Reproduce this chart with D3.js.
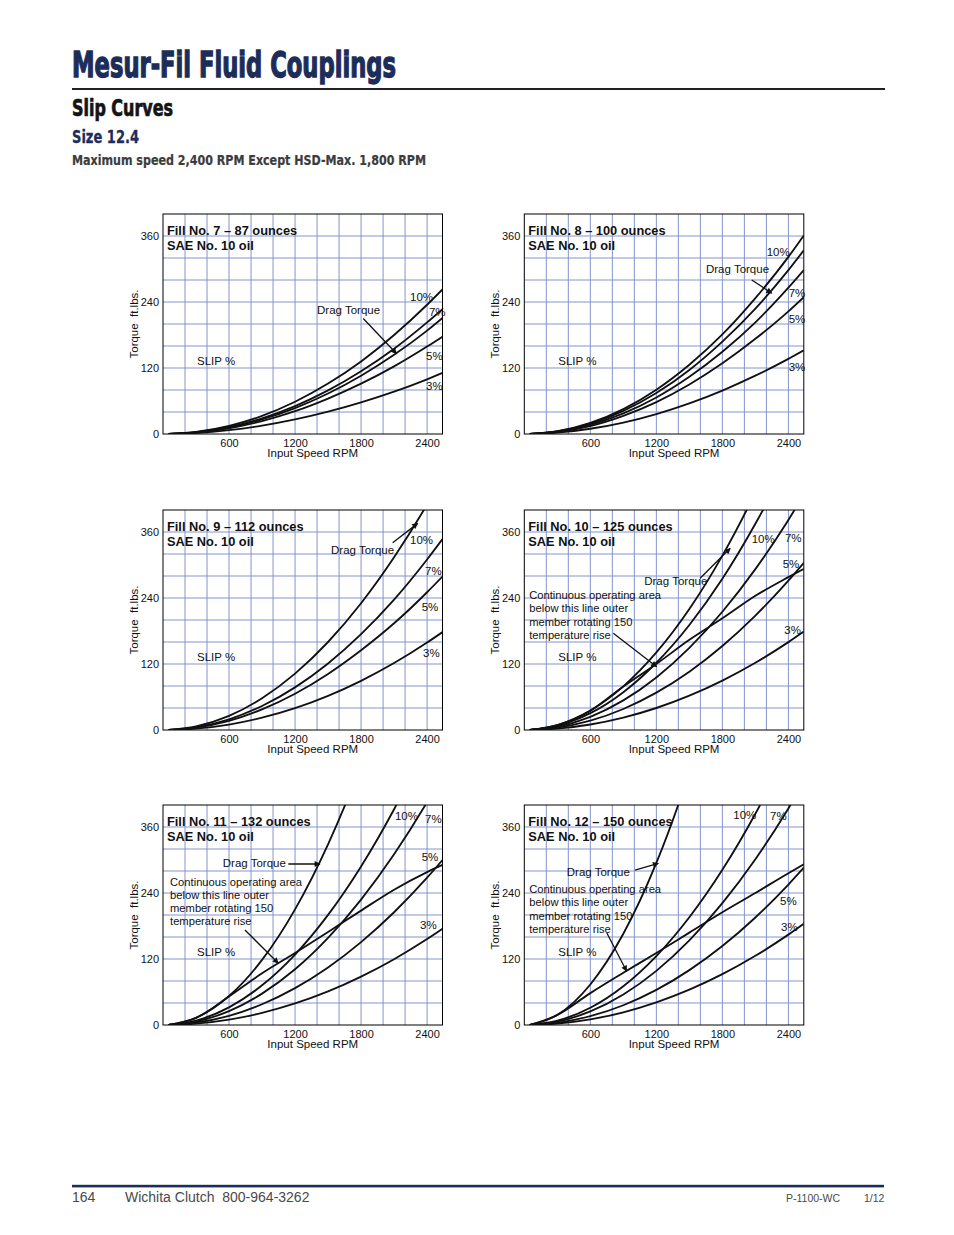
<!DOCTYPE html>
<html><head><meta charset="utf-8">
<script src="https://cdn.jsdelivr.net/npm/d3@7"></script>
<style>
html,body{margin:0;padding:0;background:#fff;}
svg{display:block;}
text{font-family:"Liberation Sans",Arial,Helvetica,sans-serif;}
</style></head><body>
<svg id="page" width="954" height="1235"></svg>
<script>
// ---------- DATA ----------
const rpm = [50, 300, 600, 900, 1200, 1500, 1800, 2100, 2400, 2540];
const rpmTicks = [600, 1200, 1800, 2400];
const torqueTicks = [0, 120, 240, 360];
const rpmGrid = [200, 400, 600, 800, 1000, 1200, 1400, 1600, 1800, 2000, 2200, 2400];
const torqueGrid = [40, 80, 120, 160, 200, 240, 280, 320, 360];
const rpmMax = 2540;
const torqueMax = 400;

// Fill No. 7
const fill7Slip10 = [0, 3.7, 14.7, 33, 58.7, 91.7, 132, 180, 235, 263];
const fill7Drag   = [0, 3.2, 12.7, 28.5, 50.7, 79.2, 114, 155, 203, 227];
const fill7Slip7  = [0, 2.9, 11.8, 26.5, 47.1, 73.6, 106, 144, 188, 211];
const fill7Slip5  = [0, 2.6, 10.4, 23.5, 41.5, 64.5, 91.5, 123, 159, 177];
const fill7Slip3  = [0, 1.8, 7.0, 15.2, 26.5, 40.6, 57.5, 77, 99.5, 111];
// Fill No. 8
const fill8Slip10 = [0, 5, 20.1, 45.3, 80.6, 126, 181, 247, 322, 361];
const fill8Drag   = [0, 4.6, 18.6, 42, 74.5, 116.5, 168, 228, 298, 334];
const fill8Slip7  = [0, 4.1, 16.6, 37.4, 66.4, 104, 149.5, 203, 266, 298];
const fill8Slip5  = [0, 3.6, 14.5, 33, 58, 90, 128.5, 173, 223, 249];
const fill8Slip3  = [0, 2.4, 9.5, 20.8, 36.3, 55.7, 79, 106, 136.5, 152];
// Fill No. 9
const fill9Slip10 = [0, 6.4, 25.6, 57.7, 102.5, 160, 230.5, 314, 410, 459];
const fill9Slip7  = [0, 4.8, 19.4, 43.6, 77.5, 121, 174.3, 237, 310, 347];
const fill9Slip5  = [0, 4.2, 16.5, 37.5, 66, 102, 145, 194, 250.5, 279];
const fill9Slip3  = [0, 2.5, 9.9, 22.4, 39.7, 62.1, 89.4, 121.7, 159, 178];
// Fill No. 10
const fill10Drag   = [0, 8.8, 35.3, 79.4, 141, 220, 317, 432, 564, 632];
const fill10Slip10 = [0, 7.6, 30.6, 68.8, 122.3, 191, 275, 375, 489, 548];
const fill10Slip7  = [0, 5.9, 23.9, 53.8, 95.5, 149.3, 215, 292.5, 382, 428];
const fill10Slip5  = [0, 4.2, 17, 38.2, 67.9, 106, 152.7, 208, 271.4, 304];
const fill10Limit  = [0, 8.8, 35, 79, 120, 164, 203, 244, 278, 293];
const fill10Slip3  = [0, 2.5, 10, 22.5, 40, 62.4, 89.9, 122.3, 159.8, 179];
// Fill No. 11
const fill11Drag   = [0, 13.1, 52.6, 118.3, 210.3, 328.6, 473, 644, 841, 942];
const fill11Slip10 = [0, 8, 32, 72.1, 128.1, 200.2, 288.3, 392.3, 512.5, 574];
const fill11Slip7  = [0, 6.3, 25.3, 57, 101.3, 158.4, 228, 310.3, 405.3, 454];
const fill11Slip5  = [0, 4.2, 16.7, 37.7, 67, 104.6, 150.7, 205, 267.8, 300];
const fill11Limit  = [0, 13, 52, 94, 131, 169, 208, 246, 278, 291];
const fill11Slip3  = [0, 2.4, 9.8, 22, 39.1, 61, 87.9, 119.6, 156.2, 175];
// Fill No. 12
const fill12Drag   = [0, 18.3, 73.7, 165.8, 294.6, 460, 663, 902, 1178, 1320];
const fill12Slip10 = [0, 7.8, 31.4, 70.6, 125.4, 196, 282.2, 384.1, 501.8, 562];
const fill12Slip7  = [0, 6.1, 24.6, 55.4, 98.4, 153.8, 221.5, 301.4, 393.7, 441];
const fill12Slip5  = [0, 4, 16, 35.9, 63.8, 99.8, 143.6, 195.5, 255.3, 286];
const fill12Limit  = [0, 18.3, 58, 95, 131, 168, 205, 240, 276, 292];
const fill12Slip3  = [0, 2.6, 10.3, 23.1, 41.1, 64.2, 92.4, 125.8, 164.3, 184];

const fillTitles = ["Fill No. 7 \u2013 87 ounces", "Fill No. 8 \u2013 100 ounces", "Fill No. 9 \u2013 112 ounces",
                    "Fill No. 10 \u2013 125 ounces", "Fill No. 11 \u2013 132 ounces", "Fill No. 12 \u2013 150 ounces"];
const oilLabel = "SAE No. 10 oil";
const noteLines = ["Continuous operating area", "below this line outer", "member rotating 150", "temperature rise"];

// ---------- ANNOTATIONS (data coordinates: rpm, torque) ----------
const panels = [
  { title: fillTitles[0], col: 0, row: 0,
    curves: [fill7Slip10, fill7Drag, fill7Slip7, fill7Slip5, fill7Slip3],
    labels: [["Drag Torque", 1400, 218], ["10%", 2245, 242], ["7%", 2417, 214], ["5%", 2390, 134], ["3%", 2390, 80]],
    arrows: [[1820, 210, 2123, 146]], note: null },
  { title: fillTitles[1], col: 1, row: 0,
    curves: [fill8Slip10, fill8Drag, fill8Slip7, fill8Slip5, fill8Slip3],
    labels: [["Drag Torque", 1651, 293], ["10%", 2203, 324], ["7%", 2403, 249], ["5%", 2403, 202], ["3%", 2403, 115]],
    arrows: [[2067, 280, 2249, 256]], note: null },
  { title: fillTitles[2], col: 0, row: 1,
    curves: [fill9Slip10, fill9Slip7, fill9Slip5, fill9Slip3],
    labels: [["Drag Torque", 1527, 320], ["10%", 2245, 338], ["7%", 2381, 282], ["5%", 2351, 217], ["3%", 2363, 133]],
    arrows: [[2087, 340.5, 2315, 375.7]], note: null },
  { title: fillTitles[3], col: 1, row: 1,
    curves: [fill10Drag, fill10Slip10, fill10Slip7, fill10Slip5, fill10Limit, fill10Slip3],
    labels: [["Drag Torque", 1090, 263], ["10%", 2066, 340], ["7%", 2369, 342], ["5%", 2348, 294.5], ["3%", 2363, 174]],
    arrows: [[1598, 275.8, 1871, 330.3], [809, 175.8, 1203, 115]], note: [45, 238] },
  { title: fillTitles[4], col: 0, row: 2,
    curves: [fill11Drag, fill11Slip10, fill11Slip7, fill11Slip5, fill11Limit, fill11Slip3],
    labels: [["Drag Torque", 543, 287.6], ["10%", 2108, 372], ["7%", 2381, 367], ["5%", 2351, 299], ["3%", 2336, 174.5]],
    arrows: [[1139, 292.7, 1427, 292.7], [745, 172.7, 1048, 112.2]], note: [64, 253.6] },
  { title: fillTitles[5], col: 1, row: 2,
    curves: [fill12Drag, fill12Slip10, fill12Slip7, fill12Slip5, fill12Limit, fill12Slip3],
    labels: [["Drag Torque", 386, 271], ["10%", 1899, 374.5], ["7%", 2233, 373.6], ["5%", 2324, 218], ["3%", 2333, 171]],
    arrows: [[1006, 281.8, 1218, 294], [749, 167.6, 930, 97.8]], note: [45, 240] }
];
const slipLabel = ["SLIP %", 309, 125];

// ---------- LAYOUT ----------
const colX = [163, 524.3];
const rowBottom = [434, 730, 1025];
const plotW = 279.5, plotH = 220;
const navy = "#1c2d5a";
const gridColor = "#8494cf";
const ink = "#111";

const svg = d3.select("#page");

// arrow marker
const defs = svg.append("defs");
defs.append("marker").attr("id", "ah")
  .attr("viewBox", "0 0 10 10").attr("refX", 9).attr("refY", 5)
  .attr("markerWidth", 7).attr("markerHeight", 6).attr("markerUnits", "userSpaceOnUse")
  .attr("orient", "auto")
  .append("path").attr("d", "M0,0 L10,5 L0,10 z").attr("fill", ink);

// ---------- HEADER ----------
const condensed = "'Liberation Sans Narrow','Arial Narrow','DejaVu Sans Condensed','Roboto Condensed',sans-serif";
svg.append("text").attr("x", 72).attr("y", 77)
  .style("font-family", condensed).style("font-weight", "bold").style("font-size", "35px")
  .attr("fill", navy).attr("stroke", navy).attr("stroke-width", 1.3)
  .attr("textLength", 324).attr("lengthAdjust", "spacingAndGlyphs")
  .text("Mesur-Fil Fluid Couplings");
svg.append("line").attr("x1", 72).attr("x2", 885).attr("y1", 89).attr("y2", 89)
  .attr("stroke", "#222").attr("stroke-width", 1.8);
svg.append("text").attr("x", 72).attr("y", 116)
  .style("font-family", condensed).style("font-weight", "bold").style("font-size", "22.5px")
  .attr("fill", "#141414").attr("stroke", "#141414").attr("stroke-width", 0.7)
  .attr("textLength", 101).attr("lengthAdjust", "spacingAndGlyphs")
  .text("Slip Curves");
svg.append("text").attr("x", 72).attr("y", 143.3)
  .style("font-family", condensed).style("font-weight", "bold").style("font-size", "18.5px")
  .attr("fill", navy).attr("stroke", navy).attr("stroke-width", 0.3)
  .attr("textLength", 67).attr("lengthAdjust", "spacingAndGlyphs")
  .text("Size 12.4");
svg.append("text").attr("x", 72).attr("y", 165)
  .style("font-family", condensed).style("font-weight", "bold").style("font-size", "14px")
  .attr("fill", "#3c3c3c").attr("stroke", "#3c3c3c").attr("stroke-width", 0.2)
  .attr("textLength", 354).attr("lengthAdjust", "spacingAndGlyphs")
  .text("Maximum speed 2,400 RPM Except HSD-Max. 1,800 RPM");

// ---------- PANELS ----------
panels.forEach((p, i) => {
  const x = d3.scaleLinear().domain([0, rpmMax]).range([0, plotW]);
  const y = d3.scaleLinear().domain([0, torqueMax]).range([plotH, 0]);
  const g = svg.append("g").attr("transform", `translate(${colX[p.col]},${rowBottom[p.row] - plotH})`);

  g.append("clipPath").attr("id", "clip" + i).append("rect")
    .attr("x", 0).attr("y", 0).attr("width", plotW).attr("height", plotH);

  // grid
  g.append("g").selectAll("line").data(rpmGrid).join("line")
    .attr("x1", d => x(d)).attr("x2", d => x(d)).attr("y1", 0).attr("y2", plotH)
    .attr("stroke", gridColor).attr("stroke-width", 1);
  g.append("g").selectAll("line").data(torqueGrid).join("line")
    .attr("y1", d => y(d)).attr("y2", d => y(d)).attr("x1", 0).attr("x2", plotW)
    .attr("stroke", gridColor).attr("stroke-width", 1);

  // axes
  const ax = g.append("g").attr("transform", `translate(0,${plotH})`)
    .call(d3.axisBottom(x).tickValues(rpmTicks).tickSize(0).tickPadding(5).tickFormat(d3.format("d")));
  const ay = g.append("g")
    .call(d3.axisLeft(y).tickValues(torqueTicks).tickSize(0).tickPadding(4).tickFormat(d3.format("d")));
  [ax, ay].forEach(a => {
    a.select(".domain").remove();
    a.selectAll("text").style("font-family", "'Liberation Sans',Arial,sans-serif")
      .style("font-size", "11px").attr("fill", ink);
  });

  // frame
  g.append("rect").attr("x", 0).attr("y", 0).attr("width", plotW).attr("height", plotH)
    .attr("fill", "none").attr("stroke", "#000").attr("stroke-width", 1);

  // axis titles
  g.append("text").attr("x", plotW / 2 + 10).attr("y", plotH + 23).attr("text-anchor", "middle")
    .style("font-size", "11.5px").attr("fill", ink).text("Input Speed RPM");
  g.append("text").attr("transform", `translate(-25,${plotH / 2}) rotate(-90)`).attr("text-anchor", "middle")
    .style("font-size", "11.5px").attr("fill", ink).style("white-space", "pre")
    .text("Torque  ft.lbs.");

  // curves
  const line = d3.line().x((d, k) => x(rpm[k])).y(d => y(d)).curve(d3.curveMonotoneX);
  g.append("g").attr("clip-path", `url(#clip${i})`).selectAll("path").data(p.curves).join("path")
    .attr("d", d => line(d)).attr("fill", "none").attr("stroke", ink).attr("stroke-width", 1.85);

  // titles
  g.append("text").attr("x", 4).attr("y", 21).style("font-weight", "bold").style("font-size", "12.8px")
    .attr("fill", ink).text(p.title);
  g.append("text").attr("x", 4).attr("y", 36).style("font-weight", "bold").style("font-size", "12.8px")
    .attr("fill", ink).text(oilLabel);

  // labels
  g.append("text").attr("x", x(slipLabel[1])).attr("y", y(slipLabel[2]))
    .style("font-size", "11.5px").attr("fill", ink).text(slipLabel[0]);
  g.append("g").selectAll("text").data(p.labels).join("text")
    .attr("x", d => x(d[1])).attr("y", d => y(d[2]))
    .style("font-size", "11.5px").attr("fill", ink).text(d => d[0]);

  // note
  if (p.note) {
    g.append("g").selectAll("text").data(noteLines).join("text")
      .attr("x", x(p.note[0])).attr("y", (d, k) => y(p.note[1]) + k * 13.3)
      .style("font-size", "11.2px").attr("fill", ink).text(d => d);
  }

  // arrows
  g.append("g").selectAll("line").data(p.arrows).join("line")
    .attr("x1", d => x(d[0])).attr("y1", d => y(d[1]))
    .attr("x2", d => x(d[2])).attr("y2", d => y(d[3]))
    .attr("stroke", ink).attr("stroke-width", 1.3).attr("marker-end", "url(#ah)");
});

// ---------- FOOTER ----------
svg.append("rect").attr("x", 72).attr("y", 1184.8).attr("width", 812).attr("height", 2.6).attr("fill", navy);
const foot = [["164", 72, 14], ["Wichita Clutch  800-964-3262", 125, 14], ["P-1100-WC", 786, 10.5], ["1/12", 864, 10.5]];
svg.append("g").selectAll("text").data(foot).join("text")
  .attr("x", d => d[1]).attr("y", 1202).style("font-size", d => d[2] + "px")
  .style("white-space", "pre").attr("fill", "#4a4a4a").text(d => d[0]);
</script>
</body></html>
